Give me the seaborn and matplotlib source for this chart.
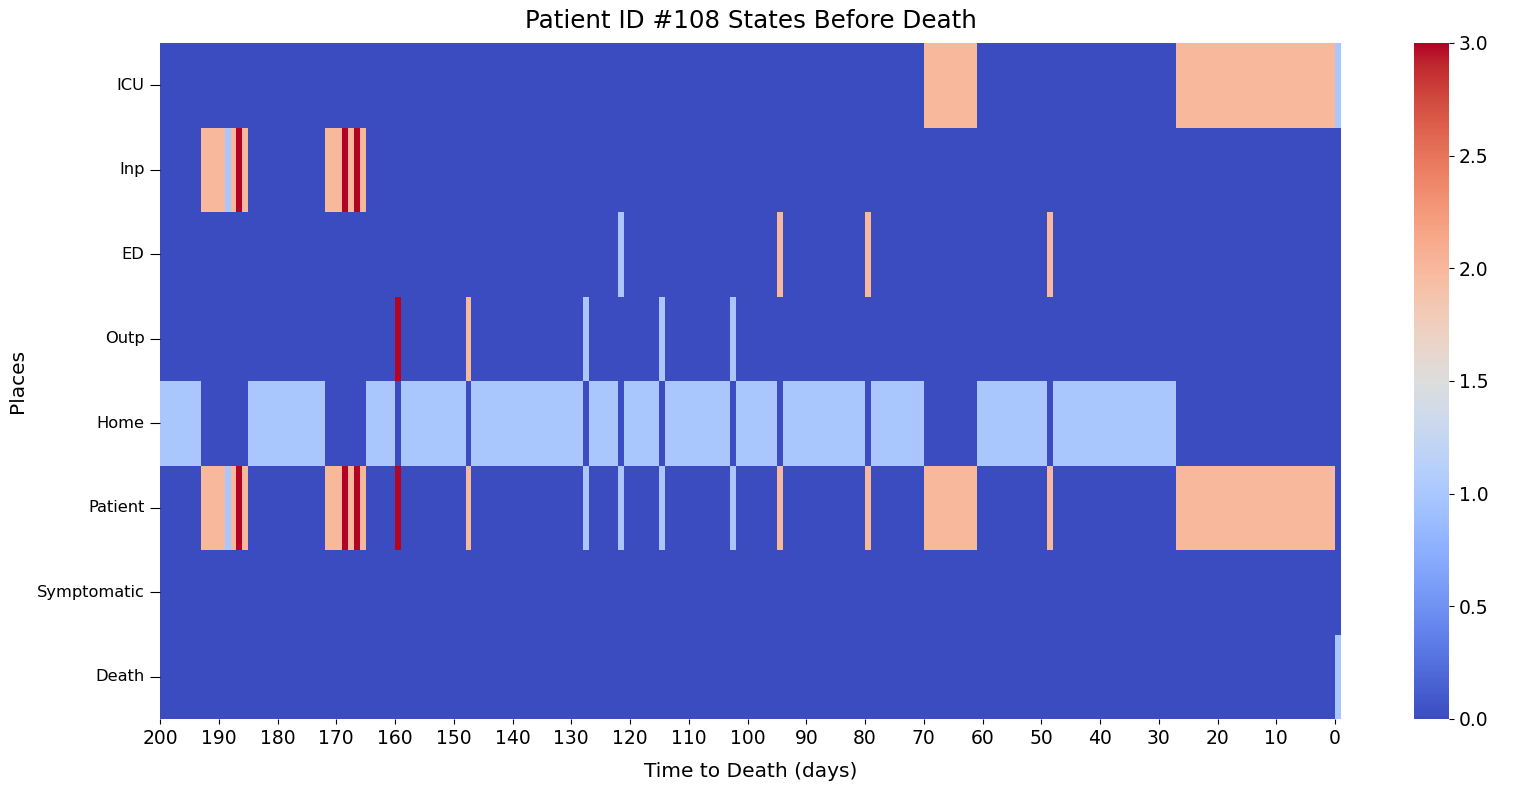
import numpy as np
import pandas as pd
import matplotlib
matplotlib.use("Agg")
import matplotlib.pyplot as plt
import seaborn as sns

places = ["ICU", "Inp", "ED", "Outp", "Home", "Patient", "Symptomatic", "Death"]
days_to_death = list(range(200, -1, -1))
xtick_days = list(range(200, -1, -10))
cbar_ticks = [0.0, 0.5, 1.0, 1.5, 2.0, 2.5, 3.0]

# runs of (first day, last day, state value) in days before death
icu_runs = [(70, 62, 2), (27, 1, 2), (0, 0, 1)]
inp_runs = [(193, 190, 2), (189, 189, 1), (188, 188, 2), (187, 187, 3), (186, 186, 2),
            (172, 170, 2), (169, 169, 3), (168, 168, 2), (167, 167, 3), (166, 166, 2)]
ed_runs = [(122, 122, 1), (95, 95, 2), (80, 80, 2), (49, 49, 2)]
outp_runs = [(160, 160, 3), (148, 148, 2), (128, 128, 1), (115, 115, 1), (103, 103, 1)]
home_runs = [(200, 194, 1), (185, 173, 1), (165, 161, 1), (159, 149, 1), (147, 129, 1),
             (127, 123, 1), (121, 116, 1), (114, 104, 1), (102, 96, 1), (94, 81, 1),
             (79, 71, 1), (61, 50, 1), (48, 28, 1)]
patient_runs = [(193, 190, 2), (189, 189, 1), (188, 188, 2), (187, 187, 3), (186, 186, 2),
                (172, 170, 2), (169, 169, 3), (168, 168, 2), (167, 167, 3), (166, 166, 2),
                (160, 160, 3), (148, 148, 2), (128, 128, 1), (122, 122, 1), (115, 115, 1),
                (103, 103, 1), (95, 95, 2), (80, 80, 2), (70, 62, 2), (49, 49, 2), (27, 1, 2)]
symptomatic_runs = []
death_runs = [(0, 0, 1)]


def build_row(runs):
    row = pd.Series(0.0, index=days_to_death)
    for first, last, val in runs:
        row.loc[first:last] = val
    return row


all_runs = [icu_runs, inp_runs, ed_runs, outp_runs, home_runs, patient_runs,
            symptomatic_runs, death_runs]
df = pd.DataFrame([build_row(r).values for r in all_runs], index=places, columns=days_to_death)

fig = plt.figure(figsize=(15.16, 7.87), dpi=100)
ax = fig.add_axes([160 / 1516, 68 / 787, 1181 / 1516, 676 / 787])
cax = fig.add_axes([1414 / 1516, 68 / 787, 35 / 1516, 676 / 787])

sns.heatmap(df, cmap="coolwarm", vmin=0, vmax=3, ax=ax, cbar_ax=cax)

ax.set_xticks(np.arange(0, 201, 10))
ax.set_xticklabels([str(d) for d in xtick_days], rotation=0, fontsize=13.5)
ax.set_yticklabels(places, rotation=0, fontsize=11.7)
ax.tick_params(axis="y", length=7.5)
ax.set_title("Patient ID #108 States Before Death", fontsize=17.7, pad=11)
ax.set_xlabel("Time to Death (days)", fontsize=14.5, labelpad=10)
ax.set_ylabel("Places", fontsize=14.5, labelpad=7)
cax.set_yticks(cbar_ticks)
cax.set_yticklabels([f"{t:.1f}" for t in cbar_ticks])
cax.tick_params(labelsize=13.5)

fig.savefig("out.png", dpi=100)
